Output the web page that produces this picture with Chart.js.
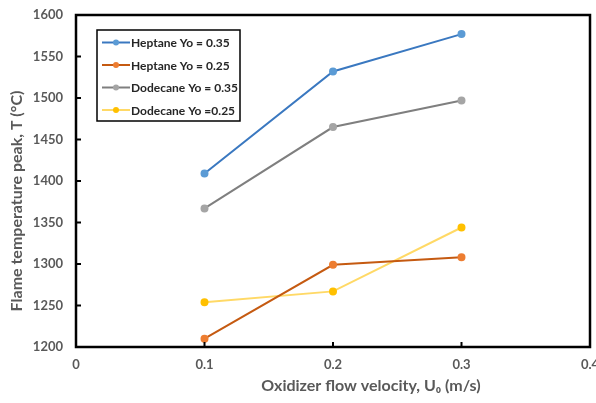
<!DOCTYPE html>
<html>
<head>
<meta charset="utf-8">
<script src="https://cdn.jsdelivr.net/npm/chart.js@4/dist/chart.umd.min.js"></script>
<style>
  html, body { margin: 0; padding: 0; background: #fff; }
  #wrap { width: 596px; height: 403px; }
</style>
</head>
<body>
<div id="wrap"><canvas id="myChart" width="596" height="403"></canvas></div>
<script>
// values
var Velocidad = [0.1, 0.2, 0.3];
var HeptanoAlto = [1409, 1532, 1577];
var HeptanoBajo = [1210, 1299, 1308];
var DodecanoAlto = [1367, 1465, 1497];
var DodecanoBajo = [1254, 1267, 1344];
var Nombres = ['Heptane Yo = 0.35', 'Heptane Yo = 0.25', 'Dodecane Yo = 0.35', 'Dodecane Yo =0.25'];
var Lineas = ['#3a78c0', '#c55a11', '#7f7f7f', '#ffd966'];
var Puntos = ['#5b9bd5', '#ed7d31', '#a5a5a5', '#ffc000'];
var XTicks = [0, 0.1, 0.2, 0.3, 0.4];
var YTicks = [1200, 1250, 1300, 1350, 1400, 1450, 1500, 1550, 1600];

var FUENTE = 'Lato, "Open Sans", sans-serif';
var GRIS = '#595959';

function Serie(i, valores)
{
    var pts = [];
    for (var k = 0; k < Velocidad.length; k++) pts.push({x: Velocidad[k], y: valores[k]});
    return {
        label: Nombres[i],
        data: pts,
        borderColor: Lineas[i],
        backgroundColor: Puntos[i],
        pointBackgroundColor: Puntos[i],
        pointBorderColor: Puntos[i],
        pointRadius: 3,
        borderWidth: 2,
        tension: 0
    };
}

// marco, marcas interiores, titulos de ejes y leyenda
var Extras = {
    id: 'extras',
    afterDraw: function(chart)
    {
        var ctx = chart.ctx;
        var a = chart.chartArea;
        var sx = chart.scales.x, sy = chart.scales.y;
        ctx.save();
        ctx.strokeStyle = '#000';
        ctx.lineWidth = 2.5;
        ctx.strokeRect(a.left, a.top, a.right - a.left, a.bottom - a.top);

        ctx.lineWidth = 2;
        ctx.beginPath();
        YTicks.forEach(function(v) {
            var y = sy.getPixelForValue(v);
            ctx.moveTo(a.left, y); ctx.lineTo(a.left + 5, y);
        });
        XTicks.forEach(function(v) {
            var x = sx.getPixelForValue(v);
            ctx.moveTo(x, a.bottom); ctx.lineTo(x, a.bottom - 5);
        });
        ctx.stroke();

        // titulos
        ctx.fillStyle = GRIS;
        ctx.font = 'bold 16px ' + FUENTE;
        ctx.textAlign = 'center';
        ctx.textBaseline = 'middle';
        ctx.fillText('Oxidizer flow velocity, U\u2080 (m/s)', 371, 386);
        ctx.save();
        ctx.translate(17, 201);
        ctx.rotate(-Math.PI / 2);
        ctx.fillText('Flame temperature peak, T (\u00b0C)', 0, 0);
        ctx.restore();

        // leyenda
        var lx = 97, ly = 30, lw = 143, lh = 91;
        ctx.fillStyle = '#fff';
        ctx.fillRect(lx, ly, lw, lh);
        ctx.strokeStyle = '#000';
        ctx.lineWidth = 1.5;
        ctx.strokeRect(lx, ly, lw, lh);
        ctx.font = 'bold 12px ' + FUENTE;
        ctx.textAlign = 'left';
        chart.data.datasets.forEach(function(ds, i) {
            var y = 42.5 + i * 22.5;
            ctx.strokeStyle = ds.borderColor;
            ctx.lineWidth = 2;
            ctx.beginPath(); ctx.moveTo(102, y); ctx.lineTo(130, y); ctx.stroke();
            ctx.fillStyle = ds.pointBackgroundColor;
            ctx.beginPath(); ctx.arc(116, y, 3, 0, Math.PI * 2); ctx.fill();
            ctx.fillStyle = '#262626';
            ctx.fillText(ds.label, 131, y + 1);
        });
        ctx.restore();
    }
};

var ctx = document.getElementById('myChart').getContext('2d');
var chart = new Chart(ctx, {
    type: 'line',
    data: {
        datasets: [
            Serie(0, HeptanoAlto),
            Serie(1, HeptanoBajo),
            Serie(2, DodecanoAlto),
            Serie(3, DodecanoBajo)
        ]
    },
    options: {
        responsive: false,
        animation: false,
        layout: {padding: {top: 15, right: 6, left: 0, bottom: 0}},
        plugins: {legend: {display: false}, tooltip: {enabled: false}},
        scales: {
            x: {
                type: 'linear', min: 0, max: 0.4,
                afterBuildTicks: function(s) { s.ticks = XTicks.map(function(v) { return {value: v}; }); },
                afterFit: function(s) { s.height = 56; s.paddingLeft = 0; s.paddingRight = 0; },
                grid: {display: false, drawTicks: false},
                border: {display: false},
                ticks: {
                    padding: 10, color: GRIS, maxRotation: 0, autoSkip: false,
                    font: {family: FUENTE, size: 13, weight: 'bold'},
                    callback: function(v) { return String(v); }
                }
            },
            y: {
                type: 'linear', min: 1200, max: 1600,
                afterBuildTicks: function(s) { s.ticks = YTicks.map(function(v) { return {value: v}; }); },
                afterFit: function(s) { s.width = 76; s.paddingTop = 0; s.paddingBottom = 0; },
                grid: {display: false, drawTicks: false},
                border: {display: false},
                ticks: {
                    padding: 13, color: GRIS,
                    font: {family: FUENTE, size: 13, weight: 'bold'},
                    callback: function(v) { return String(v); }
                }
            }
        }
    },
    plugins: [Extras]
});
</script>
</body>
</html>
